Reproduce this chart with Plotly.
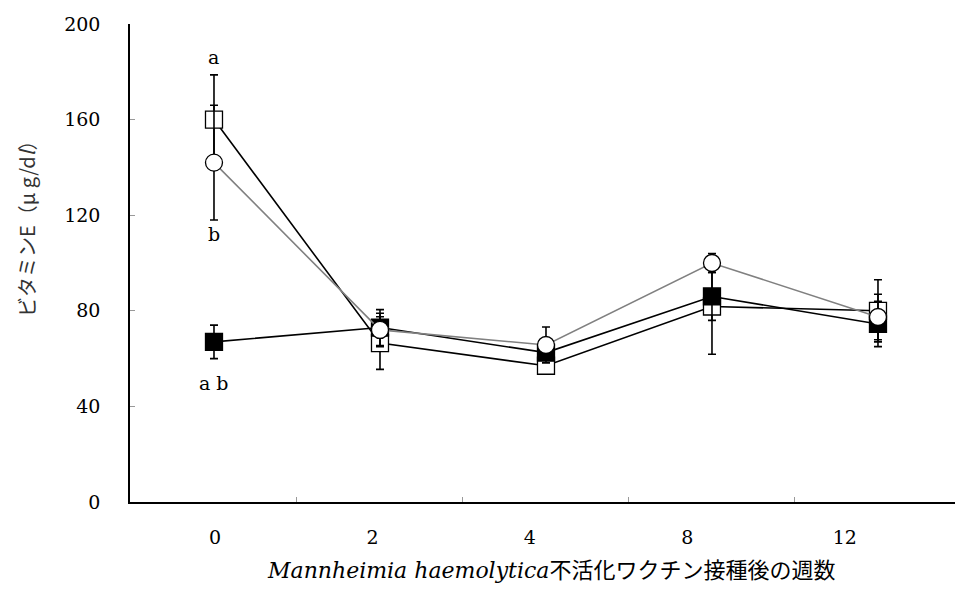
import plotly.graph_objects as go

# Weeks after inactivated Mannheimia haemolytica vaccination
weeks = ["0", "2", "4", "8", "12"]
week_idx = [0, 1, 2, 3, 4]

# Plasma vitamin E (µg/dl), mean and SD for each group
open_sq_mean = [160, 66.5, 57, 81.8, 80]
open_sq_sd = [18.7, 11, 3, 20, 13]

filled_sq_mean = [67, 73, 62.5, 86, 74.5]
filled_sq_sd = [7, 7.5, 3, 10, 9.5]

circle_mean = [142, 72, 65.7, 100, 77.4]
circle_sd = [24, 7, 7.5, 4, 9.5]

# Significance letters at week 0: (text, y value)
sig_labels = [("a", 186), ("b", 112), ("a b", 50)]

y_ticks = [0, 40, 80, 120, 160, 200]

SERIF = "DejaVu Serif"
CJK = "Noto Sans CJK JP"

fig = go.Figure()


def err(sd):
    return dict(type="data", array=sd, symmetric=True, color="black",
                thickness=1.6, width=4)


fig.add_trace(go.Scatter(
    x=week_idx, y=open_sq_mean, mode="lines+markers",
    line=dict(color="black", width=1.6),
    marker=dict(symbol="square", size=17, color="white",
                line=dict(color="black", width=1.3)),
    error_y=err(open_sq_sd), showlegend=False))

fig.add_trace(go.Scatter(
    x=week_idx, y=filled_sq_mean, mode="lines+markers",
    line=dict(color="black", width=1.6),
    marker=dict(symbol="square", size=17, color="black",
                line=dict(color="black", width=1.3)),
    error_y=err(filled_sq_sd), showlegend=False))

fig.add_trace(go.Scatter(
    x=week_idx, y=circle_mean, mode="lines+markers",
    line=dict(color="#808080", width=1.6),
    marker=dict(symbol="circle", size=17, color="white",
                line=dict(color="black", width=1.3)),
    error_y=err(circle_sd), showlegend=False))

# invisible trace so the label axis is laid out
fig.add_trace(go.Scatter(x=week_idx, y=[None] * 5, xaxis="x2",
                         mode="markers", showlegend=False, hoverinfo="skip"))

for txt, yv in sig_labels:
    fig.add_annotation(x=0, y=yv, xref="x", yref="y", text=txt,
                       showarrow=False, font=dict(family=SERIF, size=19, color="black"))

fig.update_layout(
    width=955, height=590,
    margin=dict(l=130, r=0, t=24, b=88),
    paper_bgcolor="white", plot_bgcolor="white",
    xaxis=dict(range=[-0.506, 4.464], tickvals=[0.5, 1.5, 2.5, 3.5],
               showticklabels=False, ticks="inside", ticklen=5,
               tickcolor="#999999", tickwidth=1,
               showline=True, linecolor="black", linewidth=1.6,
               showgrid=False, zeroline=False),
    xaxis2=dict(overlaying="x", anchor="y", side="bottom",
                range=[-0.54, 4.70], tickvals=week_idx, ticktext=weeks,
                ticks="", showline=False, showgrid=False, zeroline=False,
                ticklabelstandoff=22,
                tickfont=dict(family=SERIF, size=19, color="black")),
    yaxis=dict(range=[0, 200], tickvals=y_ticks, ticks="inside", ticklen=5,
               tickcolor="#999999", tickwidth=1,
               showline=True, linecolor="black", linewidth=1.6,
               showgrid=False, zeroline=False, ticklabelstandoff=24,
               tickfont=dict(family=SERIF, size=19, color="black")),
)

# axis titles
fig.add_annotation(
    x=(26 - 130) / 825, y=(502 - 224) / 478, xref="paper", yref="paper",
    xanchor="center", yanchor="middle",
    text="ビタミンE（μ g/d<i>l</i>）", textangle=-90, showarrow=False,
    font=dict(family=CJK, size=20, color="#333333"))

fig.add_annotation(
    x=(551 - 130) / 825, y=-(568 - 502) / 478, xref="paper", yref="paper",
    xanchor="center", yanchor="middle",
    text=("<i><span style='font-family:DejaVu Serif'>Mannheimia haemolytica</span></i>"
          "不活化ワクチン接種後の週数"),
    showarrow=False, font=dict(family=CJK, size=22, color="black"))

fig.write_html("out.html")
